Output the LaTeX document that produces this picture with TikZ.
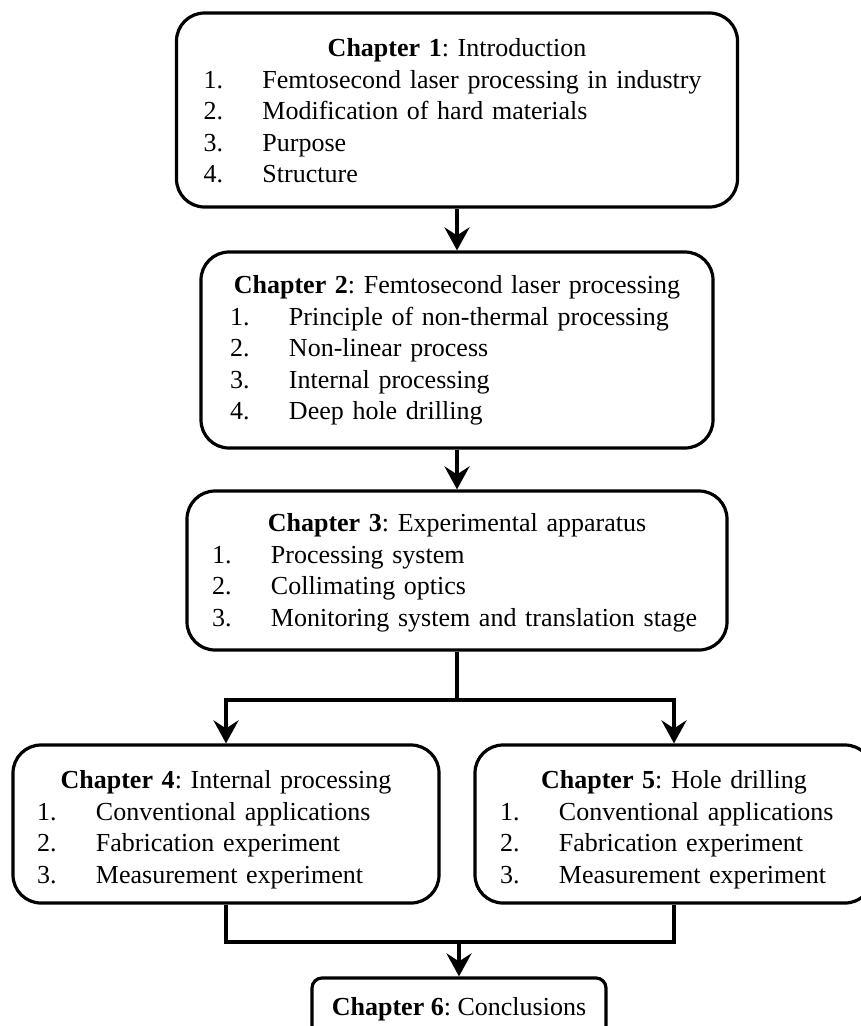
\documentclass[tikz,border=0pt]{standalone}
\usepackage{fontspec}
\setmainfont{Liberation Serif}
\usetikzlibrary{arrows.meta}
\frenchspacing
\newcommand{\chapitem}[2]{\makebox[59pt][l]{#1}#2}
\newcommand{\chaptitle}[2]{\makebox[\linewidth]{\strut\textbf{Chapter #1}: #2}}

\begin{document}
\begin{tikzpicture}[x=1pt,y=-1pt,
  chapbox/.style={draw,line width=3.2pt,rounded corners=28pt,inner sep=0pt},
  chaptext/.style={anchor=north,inner sep=0pt,align=left,font=\fontsize{26}{31.5}\selectfont},
  link/.style={line width=4.2pt},
  flow/.style={link,-{Stealth[length=23pt,width=25pt,inset=8pt]}}]
\useasboundingbox (0,0) rectangle (861,1026);
\clip (0,0) rectangle (861,1026);
\node[chapbox,minimum width=561pt,minimum height=194pt] (c1) at (457,110) {};
\node[chapbox,minimum width=512pt,minimum height=196pt] (c2) at (457,350) {};
\node[chapbox,minimum width=540pt,minimum height=159pt] (c3) at (457,570.5) {};
\node[chapbox,minimum width=426pt,minimum height=158pt] (c4) at (226,824) {};
\node[chapbox,minimum width=398pt,minimum height=158pt] (c5) at (674,824) {};
\node[chapbox,rounded corners=10pt,minimum width=294pt,minimum height=62pt] (c6) at (459,1009) {};
\node[chaptext,text width=507pt] (t1) at ([yshift=-23pt]c1.north) {%
  \chaptitle{1}{Introduction}\\
  \chapitem{1.}{Femtosecond laser processing in industry}\\
  \chapitem{2.}{Modification of hard materials}\\
  \chapitem{3.}{Purpose}\\
  \chapitem{4.}{Structure}};
\node[chaptext,text width=454pt] (t2) at ([yshift=-21pt]c2.north) {%
  \chaptitle{2}{Femtosecond laser processing}\\
  \chapitem{1.}{Principle of non-thermal processing}\\
  \chapitem{2.}{Non-linear process}\\
  \chapitem{3.}{Internal processing}\\
  \chapitem{4.}{Deep hole drilling}};
\node[chaptext,text width=490pt] (t3) at ([yshift=-20pt]c3.north) {%
  \chaptitle{3}{Experimental apparatus}\\
  \chapitem{1.}{Processing system}\\
  \chapitem{2.}{Collimating optics}\\
  \chapitem{3.}{Monitoring system and translation stage}};
\node[chaptext,text width=378pt] (t4) at ([yshift=-23pt]c4.north) {%
  \chaptitle{4}{Internal processing}\\
  \chapitem{1.}{Conventional applications}\\
  \chapitem{2.}{Fabrication experiment}\\
  \chapitem{3.}{Measurement experiment}};
\node[chaptext,text width=348pt] (t5) at ([yshift=-23pt]c5.north) {%
  \chaptitle{5}{Hole drilling}\\
  \chapitem{1.}{Conventional applications}\\
  \chapitem{2.}{Fabrication experiment}\\
  \chapitem{3.}{Measurement experiment}};
\node[chaptext] (t6) at ([yshift=-17pt]c6.north) {\strut\textbf{Chapter 6}: Conclusions};
\coordinate (split) at ([yshift=-48pt]c3.south);
\coordinate (merge) at ([yshift=-37pt]c4.south);
\draw[flow] (c1.south) -- (c2.north);
\draw[flow] (c2.south) -- (c3.north);
\draw[flow] (c3.south) -- (split) -| (c4.north);
\draw[flow] (split) -| (c5.north);
\draw[link] (c4.south) -- (merge) -| (c5.south);
\draw[flow] (merge -| c6.north) -- (c6.north);
\end{tikzpicture}
\end{document}
